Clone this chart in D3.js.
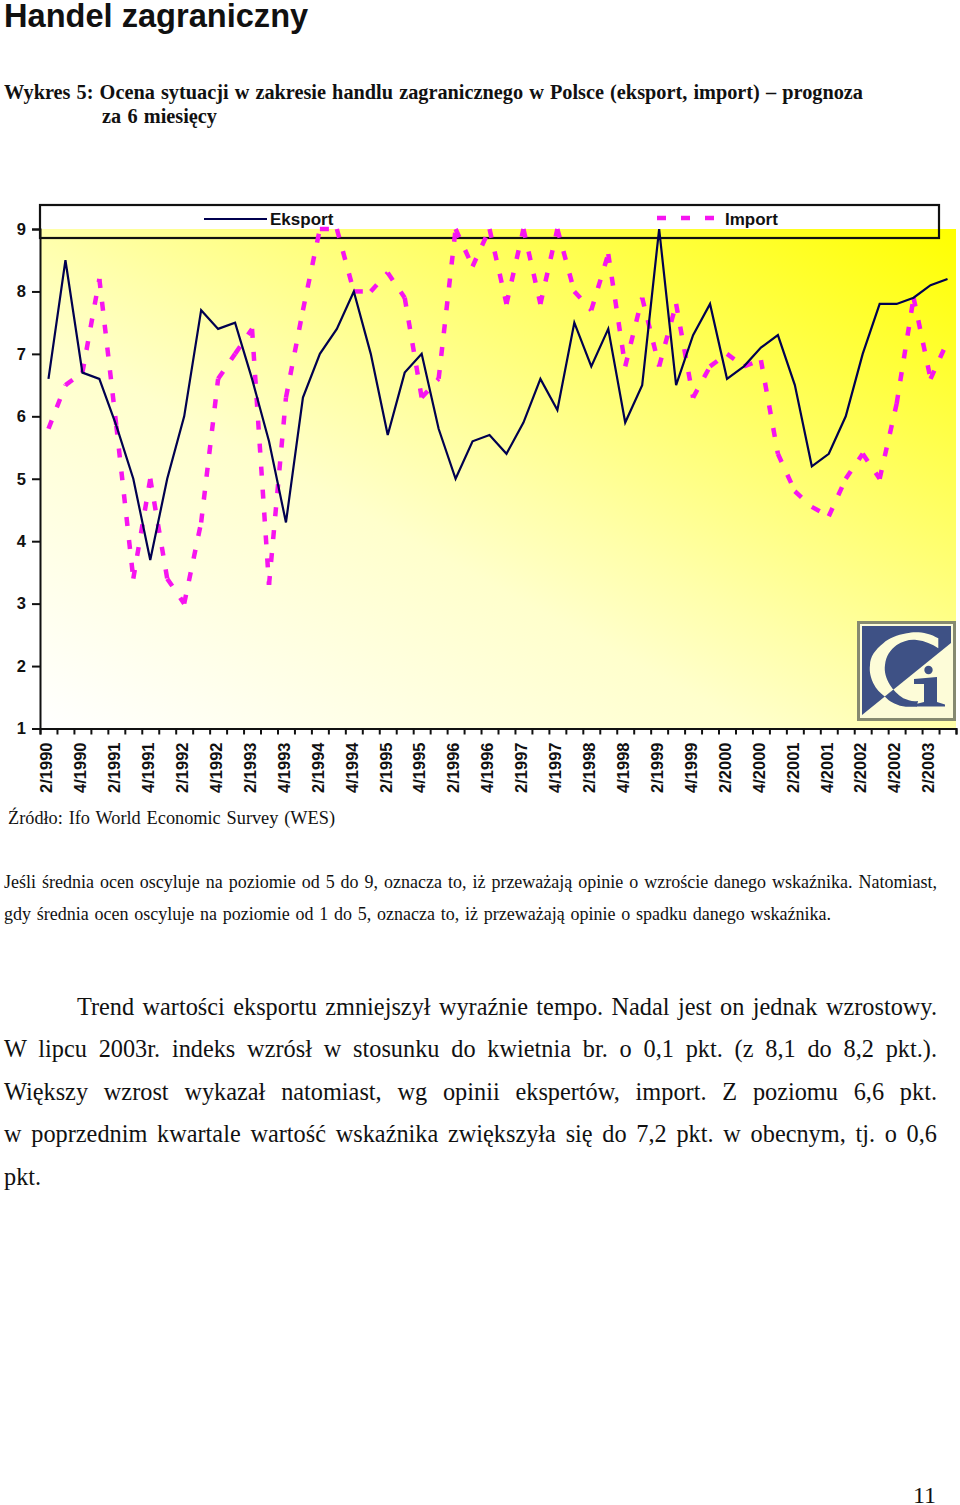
<!DOCTYPE html>
<html><head><meta charset="utf-8">
<script src="https://cdnjs.cloudflare.com/ajax/libs/d3/7.8.5/d3.min.js"></script>
<style>html,body{margin:0;padding:0;background:#fff}svg{display:block}
.s{font-family:"Liberation Serif",serif;fill:#111}
.a{font-family:"Liberation Sans",sans-serif;font-weight:bold;fill:#111}</style>
</head><body><svg id="c" width="960" height="1505"></svg>
<script>
const quarterLabels = ["2/1990","3/1990","4/1990","1/1991","2/1991","3/1991","4/1991","1/1992","2/1992","3/1992","4/1992","1/1993","2/1993","3/1993","4/1993","1/1994","2/1994","3/1994","4/1994","1/1995","2/1995","3/1995","4/1995","1/1996","2/1996","3/1996","4/1996","1/1997","2/1997","3/1997","4/1997","1/1998","2/1998","3/1998","4/1998","1/1999","2/1999","3/1999","4/1999","1/2000","2/2000","3/2000","4/2000","1/2001","2/2001","3/2001","4/2001","1/2002","2/2002","3/2002","4/2002","1/2003","2/2003","3/2003"];
const eksport = [6.6,8.5,6.7,6.6,5.85,5.0,3.7,5.0,6.0,7.7,7.4,7.5,6.6,5.6,4.3,6.3,7.0,7.4,8.0,7.0,5.7,6.7,7.0,5.8,5.0,5.6,5.7,5.4,5.9,6.6,6.1,7.5,6.8,7.4,5.9,6.5,9.0,6.5,7.3,7.8,6.6,6.8,7.1,7.3,6.5,5.2,5.4,6.0,7.0,7.8,7.8,7.9,8.1,8.2];
const importV = [5.8,6.5,6.7,8.2,5.85,3.4,5.0,3.4,3.0,4.3,6.6,7.0,7.4,3.3,6.3,7.7,9.0,9.0,8.0,8.0,8.3,7.9,6.3,6.6,9.0,8.4,9.0,7.8,9.0,7.8,9.0,8.0,7.7,8.6,6.8,7.9,6.8,7.8,6.3,6.8,7.0,6.8,6.9,5.4,4.8,4.55,4.4,5.0,5.4,5.0,6.2,7.9,6.6,7.2];
const yTicks = [1,2,3,4,5,6,7,8,9];
const seriesNames = ["Eksport","Import"];

const svg = d3.select("#c");
const M = {l:40, r:956, t:229, b:728.5};
const x = d3.scaleBand().domain(quarterLabels).range([M.l, M.r]);
const xEdge = d3.scaleLinear().domain([0, quarterLabels.length]).range([M.l, M.r]);
const y = d3.scaleLinear().domain([1, 9]).range([M.b, M.t]);
const NAVY="#00004f", MAG="#f614f0", INK="#111";

const defs = svg.append("defs");
const g = defs.append("linearGradient").attr("id","bg").attr("x1",0).attr("y1",1).attr("x2",1).attr("y2",0);
[[0,"#ffffff"],[0.39,"#ffffcc"],[0.5,"#ffffaa"],[1,"#ffff00"]].forEach(s=>g.append("stop").attr("offset",s[0]).attr("stop-color",s[1]));
svg.append("rect").attr("x",M.l).attr("y",M.t).attr("width",M.r-M.l).attr("height",M.b-M.t).attr("fill","url(#bg)");

// legend frame
svg.append("rect").attr("x",40).attr("y",205).attr("width",899).attr("height",33)
  .attr("fill","none").attr("stroke",INK).attr("stroke-width",2.2);
svg.append("line").attr("x1",204).attr("x2",267).attr("y1",219).attr("y2",219).attr("stroke",NAVY).attr("stroke-width",2.2);
svg.append("line").attr("x1",657).attr("x2",714).attr("y1",218).attr("y2",218).attr("stroke",MAG).attr("stroke-width",4.5).attr("stroke-dasharray","9 15");
svg.append("text").attr("class","a").attr("x",270).attr("y",225).attr("font-size",17).text(seriesNames[0]);
svg.append("text").attr("class","a").attr("x",725).attr("y",225).attr("font-size",17).text(seriesNames[1]);

// lines: the dash pattern restarts at every data point
const line = d3.line().x(d=>x(d.q)+x.bandwidth()/2).y(d=>y(d.v));
const importPts = importV.map((v,i)=>({q:quarterLabels[i],v}));
svg.append("g").selectAll("path").data(d3.pairs(importPts)).enter().append("path")
  .attr("d",line).attr("fill","none").attr("stroke",MAG).attr("stroke-width",4.5).attr("stroke-dasharray","9 14");
svg.append("path").datum(eksport.map((v,i)=>({q:quarterLabels[i],v}))).attr("d",line).attr("fill","none").attr("stroke",NAVY).attr("stroke-width",2.2);

// axes
const ay = d3.axisLeft(y).tickValues(yTicks).tickSize(8).tickPadding(6).tickFormat(d3.format("d"));
const gy = svg.append("g").attr("transform",`translate(${M.l},0)`).call(ay);
gy.select(".domain").attr("stroke",INK).attr("stroke-width",2);
gy.selectAll("line").attr("stroke",INK).attr("stroke-width",2);
gy.selectAll("text").attr("class","a").attr("font-size",16.5).style("fill",INK);

const ax = d3.axisBottom(xEdge).tickValues(d3.range(0,quarterLabels.length+1)).tickSize(6).tickFormat("");
const gx = svg.append("g").attr("transform",`translate(0,${M.b})`).call(ax);
gx.select(".domain").attr("stroke",INK).attr("stroke-width",2);
gx.selectAll("line").attr("stroke",INK).attr("stroke-width",2);

const ax2 = d3.axisBottom(x).tickValues(quarterLabels.filter((d,i)=>i%2===0)).tickSize(0);
const gx2 = svg.append("g").attr("transform",`translate(-2,${M.b})`).call(ax2);
gx2.select(".domain").remove();
gx2.selectAll("text").attr("class","a").attr("font-size",16.5).style("fill",INK)
  .attr("transform","rotate(-90)").attr("text-anchor","end").attr("x",-14).attr("y",0).attr("dy","0.35em").attr("dx",0);

// logo
const CREAM="#fdfcd8", BLUE="#3e5185";
const upper="M862,626H951V643L862,715Z", lower="M951,643V715H862Z";
defs.append("clipPath").attr("id","upper").append("path").attr("d",upper);
defs.append("clipPath").attr("id","lower").append("path").attr("d",lower);
svg.append("rect").attr("x",858.5).attr("y",622.5).attr("width",96).attr("height",97).attr("fill",CREAM).attr("stroke","#868a70").attr("stroke-width",3);
svg.append("path").attr("d",upper).attr("fill",BLUE);
const crescent = "M938.3,638.3C928,632 915,631 906.7,633.3C897,635 889,638 883.3,643.3C875,650 870,657 870,665C869,672 871,678 873.3,683.3C876,689 880,693 885,696.7C890,702 895,704 900,705.7C906,707 911,707 916.7,706.7L918,701C912,702 908,700 903.3,698.3C898,695 893,690 890,685C886,678 884,672 885,665C886,656 890,650 896.7,645C903,641 910,639 916.7,640C925,641 932,644 938.3,648.3Z";
svg.append("path").attr("d",crescent).attr("fill",CREAM).attr("clip-path","url(#upper)");
svg.append("path").attr("d",crescent).attr("fill",BLUE).attr("clip-path","url(#lower)");
svg.append("circle").attr("cx",928.5).attr("cy",670).attr("r",4.2).attr("fill",BLUE);
svg.append("path").attr("d","M914,679L937,677V702L945,704.5V706.5H916V704L924,702V684L914,684Z").attr("fill",BLUE);

// text
svg.append("text").attr("class","a").attr("x",4).attr("y",26.5).attr("font-size",32.6).text("Handel zagraniczny");

function tx(t,xp,yp,fs,w,bold){
  const e = svg.append("text").attr("class","s").attr("x",xp).attr("y",yp).attr("font-size",fs).attr("font-weight",bold?"bold":"normal").text(t);
  if(w){
    const n=(t.match(/ /g)||[]).length, len=e.node().getComputedTextLength();
    if(n) e.style("word-spacing",((w-len)/n)+"px");
  }
  return e;
}
tx("Wykres 5: Ocena sytuacji w zakresie handlu zagranicznego w Polsce (eksport, import) – prognoza",4,99,20.3,859,true);
tx("za 6 miesięcy",102,123,20.3,115,true);
tx("Źródło: Ifo World Economic Survey (WES)",8,824,18.3,327);
tx("Jeśli średnia ocen oscyluje na poziomie od 5 do 9, oznacza to, iż przeważają opinie o wzroście danego wskaźnika. Natomiast,",4,888,18,933);
tx("gdy średnia ocen oscyluje na poziomie od 1 do 5, oznacza to, iż przeważają opinie o spadku danego wskaźnika.",4,920,18,827);
tx("Trend wartości eksportu zmniejszył wyraźnie tempo. Nadal jest on jednak wzrostowy.",77,1015,24.3,860);
tx("W lipcu 2003r. indeks wzrósł w stosunku do kwietnia br. o 0,1 pkt. (z 8,1 do 8,2 pkt.).",4,1057,24.3,933);
tx("Większy wzrost wykazał natomiast, wg opinii ekspertów, import. Z poziomu 6,6 pkt.",4,1100,24.3,933);
tx("w poprzednim kwartale wartość wskaźnika zwiększyła się do 7,2 pkt. w obecnym, tj. o 0,6",4,1142,24.3,933);
tx("pkt.",4,1185,24.3);
tx("11",913,1503,24);
</script></body></html>
